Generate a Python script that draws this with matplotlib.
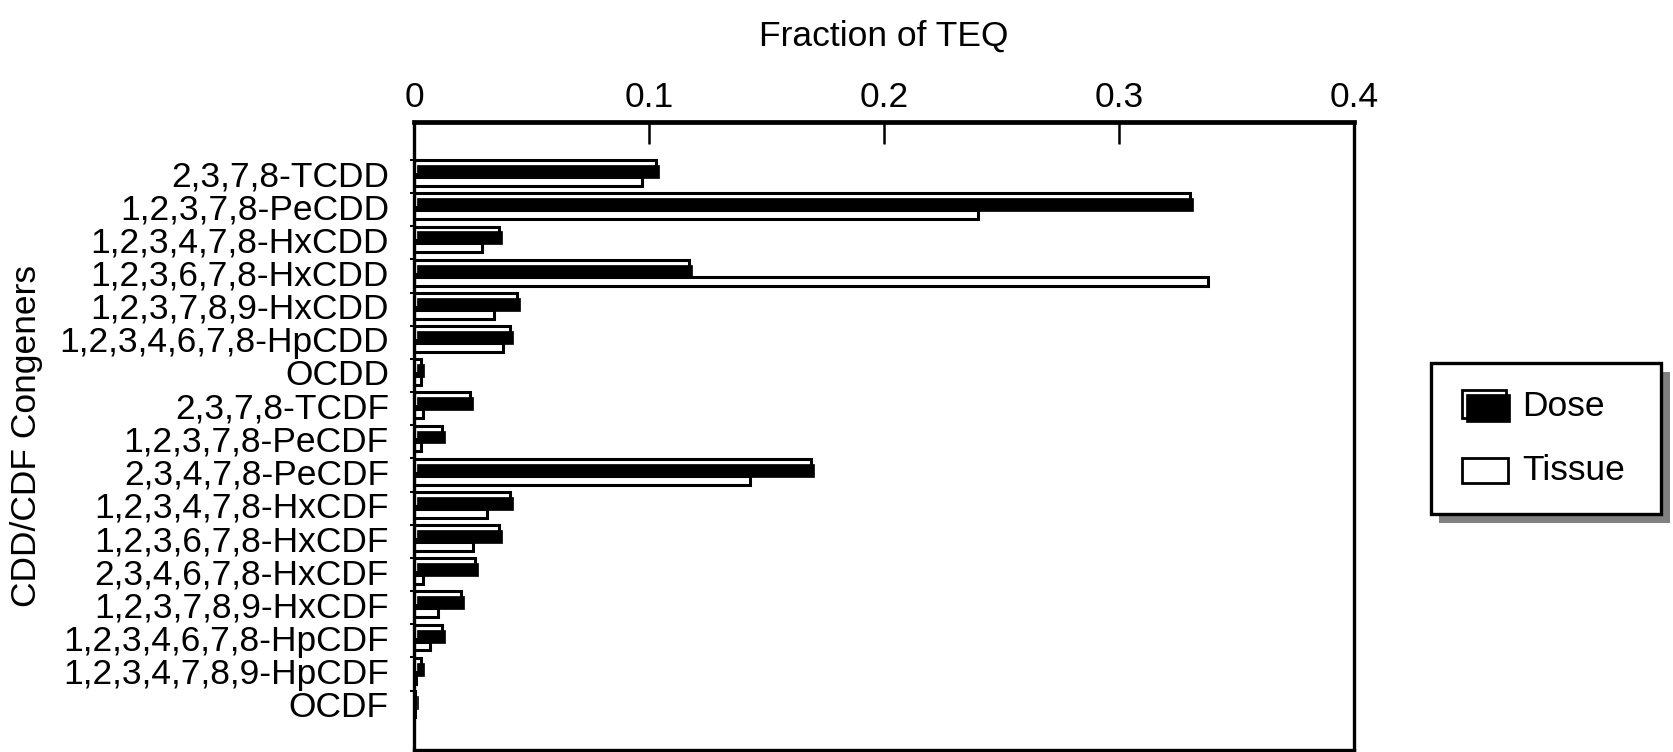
import matplotlib
matplotlib.use("Agg")
import matplotlib.pyplot as plt
from matplotlib.patches import Rectangle
import numpy as np

plt.rcParams['font.family'] = ['Liberation Sans', 'DejaVu Sans']

congeners = ["2,3,7,8-TCDD", "1,2,3,7,8-PeCDD", "1,2,3,4,7,8-HxCDD", "1,2,3,6,7,8-HxCDD",
             "1,2,3,7,8,9-HxCDD", "1,2,3,4,6,7,8-HpCDD", "OCDD", "2,3,7,8-TCDF",
             "1,2,3,7,8-PeCDF", "2,3,4,7,8-PeCDF", "1,2,3,4,7,8-HxCDF", "1,2,3,6,7,8-HxCDF",
             "2,3,4,6,7,8-HxCDF", "1,2,3,7,8,9-HxCDF", "1,2,3,4,6,7,8-HpCDF",
             "1,2,3,4,7,8,9-HpCDF", "OCDF"]
dose = [0.103, 0.330, 0.036, 0.117, 0.044, 0.041, 0.003, 0.024,
        0.012, 0.169, 0.041, 0.036, 0.026, 0.020, 0.012, 0.003, 0.0005]
tissue = [0.097, 0.240, 0.029, 0.338, 0.034, 0.038, 0.003, 0.004,
          0.003, 0.143, 0.031, 0.025, 0.004, 0.010, 0.007, 0.001, 0.0003]
xticks = [0, 0.1, 0.2, 0.3, 0.4]
xticklabels = ["0", "0.1", "0.2", "0.3", "0.4"]

W, H = 1673, 752
fig = plt.figure(figsize=(W / 100, H / 100), dpi=100)
ax = fig.add_axes([414 / W, 2 / H, (1354 - 414) / W, (751 - 123) / H])

y = np.arange(len(congeners))
xoff = 0.0013
# depth outline behind dose bars
ax.barh(y - 0.18, dose, height=0.42, color='white', edgecolor='black', linewidth=2.2, zorder=2)
# dose bars
ax.barh(y - 0.045, dose, height=0.39, left=xoff, color='black', edgecolor='black', linewidth=0.5, zorder=3)
# tissue bars
ax.barh(y + 0.255, tissue, height=0.27, color='white', edgecolor='black', linewidth=2.2, zorder=2.5)

ax.set_xlim(0, 0.4)
ax.set_ylim(len(congeners) - 1 + 1.39, -1.54)

ax.xaxis.tick_top()
ax.xaxis.set_label_position('top')
ax.set_xticks(xticks)
ax.set_xticklabels(xticklabels, fontsize=25.5)
ax.tick_params(axis='x', direction='in', length=16, width=1.8, pad=6)
ax.set_xlabel("Fraction of TEQ", fontsize=25.5, labelpad=25)

ax.set_yticks(y)
ax.set_yticklabels(congeners, fontsize=25.5)
ax.tick_params(axis='y', which='major', length=0, pad=18)
ax.set_yticks(np.arange(len(congeners)) - 0.4, minor=True)
ax.tick_params(axis='y', which='minor', direction='out', length=3, width=1.5)
ax.set_ylabel("CDD/CDF Congeners", fontsize=25.5, labelpad=12)

for s in ax.spines.values():
    s.set_linewidth(2.4)
ax.spines['top'].set_linewidth(3.4)

# legend in pixel coordinates
lax = fig.add_axes([0, 0, 1, 1], zorder=5)
lax.set_xlim(0, W)
lax.set_ylim(H, 0)
lax.axis('off')
lax.add_patch(Rectangle((1439, 372), 231, 151, facecolor='#808080', edgecolor='none'))
lax.add_patch(Rectangle((1431, 363), 230, 151, facecolor='white', edgecolor='black', linewidth=2.4))
lax.add_patch(Rectangle((1462, 390), 44, 28, facecolor='white', edgecolor='black', linewidth=2.0))
lax.add_patch(Rectangle((1466, 394), 44, 28, facecolor='black', edgecolor='black', linewidth=0.5))
lax.add_patch(Rectangle((1462, 458), 46, 25, facecolor='white', edgecolor='black', linewidth=2.0))
lax.text(1522, 406, "Dose", fontsize=25.5, va='center', ha='left')
lax.text(1522, 471, "Tissue", fontsize=25.5, va='center', ha='left')

fig.savefig("out.png", dpi=100)
